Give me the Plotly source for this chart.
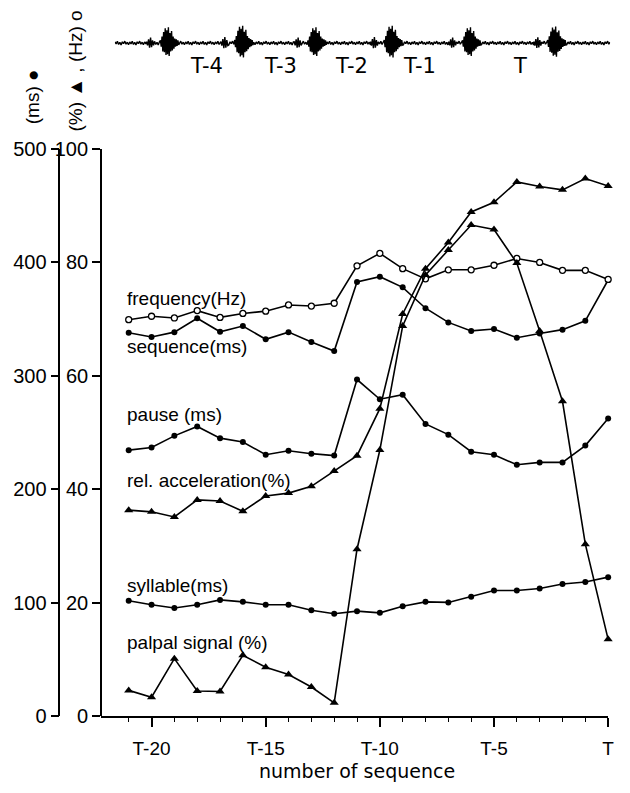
import plotly.graph_objects as go

W, H = 630, 793

# sequence number relative to the final sequence T (T-21 ... T)
seq = list(range(-21, 1))
tick_vals = [-20, -15, -10, -5, 0]
tick_text = ["T-20", "T-15", "T-10", "T-5", "T"]

# values on the (%) / (Hz) scale
frequency_hz = [69.9, 70.5, 70.2, 71.5, 70.3, 71.0, 71.4, 72.5, 72.3, 72.8, 79.4,
                81.6, 78.9, 77.1, 78.7, 78.7, 79.5, 80.7, 80.0, 78.6, 78.6, 77.0]
rel_accel_pct = [36.3, 36.0, 35.1, 38.1, 37.9, 36.1, 38.8, 39.3, 40.5, 43.2, 45.9,
                 54.2, 70.9, 78.9, 83.5, 88.9, 90.6, 94.2, 93.4, 92.8, 94.8, 93.5]
palpal_pct = [4.5, 3.3, 10.1, 4.4, 4.3, 10.7, 8.6, 7.3, 5.1, 2.3, 29.4,
              46.9, 68.8, 77.8, 82.2, 86.6, 85.8, 79.9, 67.9, 55.5, 30.3, 13.5]

# values on the (ms) scale
sequence_ms = [337.9, 334.2, 338.5, 350.8, 338.8, 343.9, 332.2, 338.5, 329.8, 321.8, 382.8,
               387.4, 378.0, 359.6, 347.1, 339.6, 341.3, 333.6, 337.3, 340.7, 348.5, 384.5]
pause_ms = [234.4, 236.7, 247.0, 255.3, 245.0, 241.6, 230.4, 233.9, 231.3, 229.6, 296.7,
            279.3, 283.3, 257.5, 248.1, 233.0, 230.4, 221.5, 223.6, 223.6, 238.4, 262.4]
syllable_ms = [101.5, 98.0, 95.2, 98.0, 102.3, 100.6, 98.0, 98.0, 93.2, 90.1, 92.4,
               90.9, 96.7, 100.6, 100.1, 105.2, 110.6, 110.6, 112.3, 116.4, 118.1, 122.4]

# oscillogram of the last sequences (time in ms, amplitude in arbitrary units)
burst_times = [108, 258, 406, 560, 718, 890]
burst_gain = [0.95, 1.05, 0.95, 1.05, 0.95, 1.0]
pre_burst = [1.5, -2.5, 4, -5, 6, -4.5, 3, -2.5]
main_burst = [3, -4, 7, -9, 12, -10, 16, -13, 14, -12, 17, -14, 11, -9, 13, -8,
              7, -6, 5, -4, 4, -3, 3, -2]
ripple = [1.2, -0.9, 1.8, -1.4, 0.7, -1.9, 1.3, -0.6, 2.0, -1.2, 0.9, -1.6]
trace_end = 1000
osc_labels = ["T-4", "T-3", "T-2", "T-1", "T"]
osc_label_times = [184, 334, 478, 616, 818]

FONT = "Liberation Sans, Arial, sans-serif"
INK = "black"

# pixel frame of the panels
OSC_LEFT, OSC_RIGHT, OSC_TOP, OSC_BOTTOM = 116, 616, 13, 53
PLOT_LEFT, PLOT_RIGHT, PLOT_TOP, PLOT_BOTTOM = 102, 614, 142, 725
MS_AXIS_X = 60


def px_x(p):
    return p / W


def px_y(p):
    return 1 - p / H


def osc_paper_x(t):
    return px_x(OSC_LEFT + (OSC_RIGHT - OSC_LEFT) * t / trace_end)


# assemble the oscillogram samples
osc_t, osc_a = [], []
k = 0


def fill_ripple(t_from, t_to, step=2.5):
    global k
    t = t_from
    while t < t_to:
        osc_t.append(t)
        osc_a.append(ripple[k % len(ripple)])
        k += 1
        t += step


cursor = 0.0
for t0, g in zip(burst_times, burst_gain):
    fill_ripple(cursor, t0 - 44)
    for j, a in enumerate(pre_burst):
        osc_t.append(t0 - 44 + 2 * j)
        osc_a.append(a * g)
    fill_ripple(t0 - 28, t0 - 16)
    for j, a in enumerate(main_burst):
        osc_t.append(t0 - 16 + 1.6 * j)
        osc_a.append(a * g)
    cursor = t0 - 16 + 1.6 * len(main_burst)
fill_ripple(cursor, trace_end)

fig = go.Figure()

line_kw = dict(color=INK, width=1.6)

fig.add_trace(go.Scatter(
    x=osc_t, y=osc_a, mode="lines", xaxis="x2", yaxis="y3",
    line=dict(color=INK, width=1.4), hoverinfo="skip"))

fig.add_trace(go.Scatter(
    x=seq, y=frequency_hz, yaxis="y2", mode="lines+markers", name="frequency (Hz)",
    line=line_kw, cliponaxis=False,
    marker=dict(symbol="circle", size=6, color="white", line=dict(color=INK, width=1.3))))

for name, vals in [("sequence (ms)", sequence_ms), ("pause (ms)", pause_ms),
                   ("syllable (ms)", syllable_ms)]:
    fig.add_trace(go.Scatter(
        x=seq, y=vals, yaxis="y", mode="lines+markers", name=name,
        line=line_kw, cliponaxis=False,
        marker=dict(symbol="circle", size=6, color=INK)))

for name, vals in [("rel. acceleration (%)", rel_accel_pct),
                   ("palpal signal (%)", palpal_pct)]:
    fig.add_trace(go.Scatter(
        x=seq, y=vals, yaxis="y2", mode="lines+markers", name=name,
        line=line_kw, cliponaxis=False,
        marker=dict(symbol="triangle-up", size=8, color=INK)))

tickfont = dict(family=FONT, size=20, color=INK)
x_lo = -(PLOT_RIGHT - PLOT_LEFT) / 23.05

fig.update_layout(
    width=W, height=H,
    margin=dict(l=0, r=0, t=0, b=0),
    paper_bgcolor="white", plot_bgcolor="white",
    showlegend=False,
    xaxis=dict(
        domain=[px_x(PLOT_LEFT), px_x(PLOT_RIGHT)], range=[x_lo, 0], anchor="y",
        showline=True, linecolor=INK, linewidth=1.8, mirror=False,
        showgrid=False, zeroline=False,
        tickmode="array", tickvals=tick_vals, ticktext=tick_text,
        ticks="outside", ticklen=9, tickwidth=1.6, tickcolor=INK,
        tickfont=dict(family=FONT, size=19, color=INK), ticklabelstandoff=5,
        minor=dict(tickmode="array", tickvals=[v for v in seq if v % 5 != 0],
                   ticks="outside", ticklen=4, tickwidth=1.2, tickcolor=INK),
    ),
    yaxis=dict(
        domain=[px_y(PLOT_BOTTOM), px_y(PLOT_TOP)], range=[0, 500],
        anchor="free", position=px_x(MS_AXIS_X), side="left",
        showline=True, linecolor=INK, linewidth=1.8,
        showgrid=False, zeroline=False,
        tickmode="linear", tick0=0, dtick=100,
        ticks="outside", ticklen=8, tickwidth=1.6, tickcolor=INK,
        tickfont=tickfont,
    ),
    yaxis2=dict(
        overlaying="y", range=[0, 100],
        anchor="free", position=px_x(PLOT_LEFT), side="left",
        showline=True, linecolor=INK, linewidth=1.8,
        showgrid=False, zeroline=False,
        tickmode="linear", tick0=0, dtick=20,
        ticks="outside", ticklen=8, tickwidth=1.6, tickcolor=INK,
        tickfont=tickfont,
    ),
    xaxis2=dict(domain=[px_x(OSC_LEFT), px_x(OSC_RIGHT)], range=[0, trace_end],
                anchor="y3", visible=False),
    yaxis3=dict(domain=[px_y(OSC_BOTTOM), px_y(OSC_TOP)], range=[-20, 20],
                anchor="x2", visible=False),
)

annotations = []

# series labels
series_labels = [
    ("frequency(Hz)", 296),
    ("sequence(ms)", 345),
    ("pause (ms)", 415),
    ("rel. acceleration(%)", 483),
    ("syllable(ms)", 591),
    ("palpal signal (%)", 650),
]
for text, yc in series_labels:
    annotations.append(dict(
        text=text, xref="paper", yref="paper", x=px_x(126), y=px_y(yc),
        xanchor="left", yanchor="middle", showarrow=False,
        font=dict(family=FONT, size=19, color=INK)))

# axis titles
annotations.append(dict(
    text="number of sequence", xref="paper", yref="paper",
    x=px_x(360), y=px_y(782), xanchor="center", yanchor="middle",
    showarrow=False, font=dict(family="DejaVu Sans, sans-serif", size=19, color=INK)))
annotations.append(dict(
    text="(ms) \u25cf", xref="paper", yref="paper", x=px_x(33), y=px_y(88),
    xanchor="center", yanchor="middle", textangle=-90, showarrow=False,
    font=dict(family=FONT, size=19, color=INK)))
annotations.append(dict(
    text="(%) \u25b2 , (Hz) o", xref="paper", yref="paper", x=px_x(76), y=px_y(62),
    xanchor="center", yanchor="middle", textangle=-90, showarrow=False,
    font=dict(family=FONT, size=19, color=INK)))

# oscillogram sequence labels
for text, t in zip(osc_labels, osc_label_times):
    annotations.append(dict(
        text=text, xref="paper", yref="paper", x=osc_paper_x(t), y=px_y(57),
        xanchor="center", yanchor="middle", showarrow=False,
        font=dict(family="DejaVu Sans, sans-serif", size=21, color=INK)))

fig.update_layout(annotations=annotations)

fig.write_html("out.html")
